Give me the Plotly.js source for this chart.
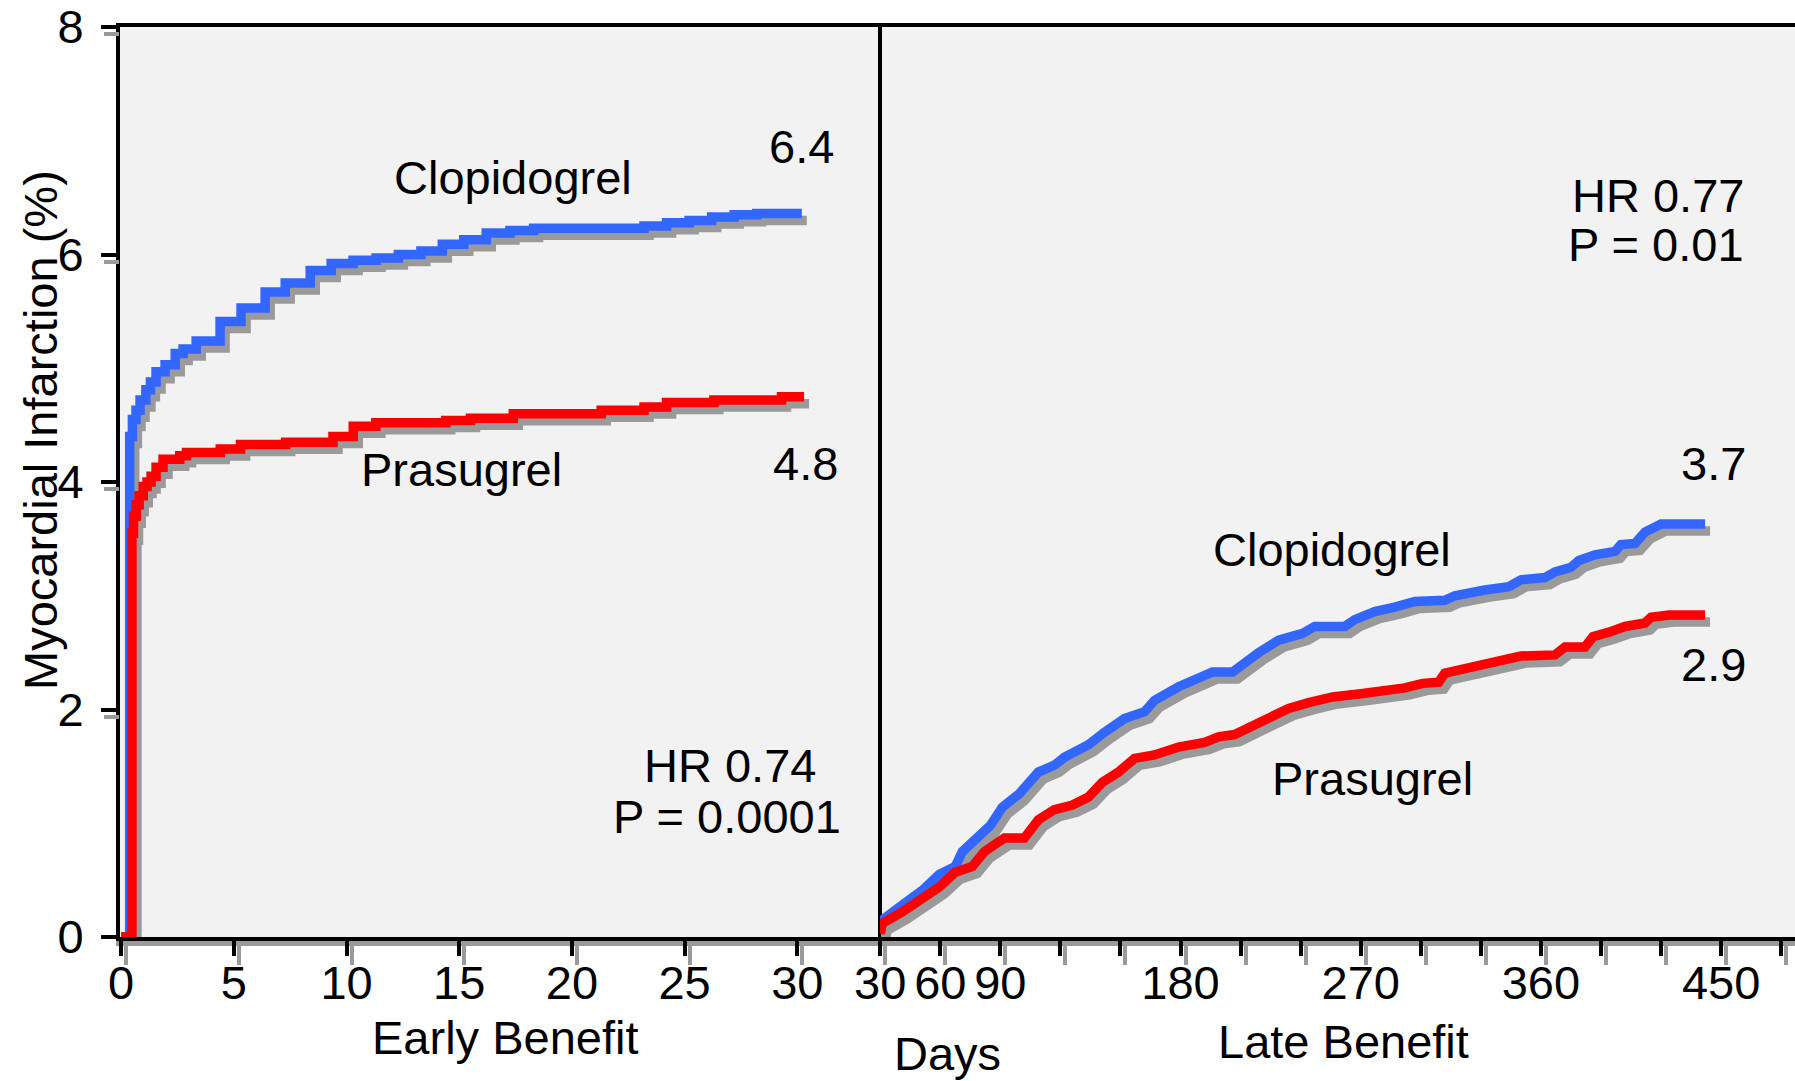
<!DOCTYPE html>
<html>
<head>
<meta charset="utf-8">
<script src="https://cdn.plot.ly/plotly-3.0.1.min.js"></script>
<style>html,body{margin:0;padding:0;background:#fff;}#chart{width:1795px;height:1081px;}</style>
</head>
<body>
<div id="chart"></div>
<script>
// ---------- data ----------
const earlyClopDays = [0, 0.38, 0.5, 0.66, 0.84, 1.1, 1.3, 1.55, 1.95, 2.4, 2.75, 3.33, 4.39, 5.32, 6.39, 7.28, 8.39, 9.32, 10.29, 11.31, 12.3, 13.3, 14.25, 15.2, 16.2, 17.25, 18.3, 23.2, 24.2, 25.2, 26.2, 27.2, 28.2, 30.2];
const earlyClopMI   = [0, 4.4, 4.55, 4.63, 4.72, 4.81, 4.88, 4.97, 5.03, 5.13, 5.17, 5.24, 5.41, 5.53, 5.67, 5.75, 5.86, 5.92, 5.95, 5.97, 6.0, 6.03, 6.09, 6.13, 6.19, 6.21, 6.23, 6.25, 6.28, 6.30, 6.33, 6.35, 6.36, 6.36];
const earlyPrasDays = [0, 0.48, 0.55, 0.67, 0.8, 0.98, 1.15, 1.33, 1.55, 1.86, 2.6, 2.9, 4.4, 5.3, 7.3, 9.4, 10.3, 11.3, 14.4, 15.5, 17.4, 21.3, 23.2, 24.2, 26.3, 29.3, 30.3];
const earlyPrasMI   = [0, 3.55, 3.7, 3.8, 3.88, 3.96, 4.0, 4.05, 4.13, 4.2, 4.23, 4.26, 4.29, 4.33, 4.35, 4.40, 4.49, 4.52, 4.54, 4.56, 4.6, 4.63, 4.66, 4.70, 4.72, 4.75, 4.75];

const lateClopDays = [30, 31, 41, 51, 59.5, 67.5, 71, 81, 85, 91, 99.5, 109, 117, 122, 134, 142, 152, 162, 167, 179, 186, 196, 206, 214, 219, 229, 241, 247, 262, 267, 277, 287, 297, 312, 317, 332, 344, 350, 362, 367, 375, 379, 387, 397, 400, 407, 412, 420, 442];
const lateClopMI   = [0.03, 0.15, 0.28, 0.41, 0.55, 0.62, 0.75, 0.9, 0.98, 1.14, 1.26, 1.45, 1.51, 1.58, 1.69, 1.80, 1.92, 1.98, 2.08, 2.2, 2.26, 2.33, 2.33, 2.44, 2.50, 2.61, 2.67, 2.73, 2.73, 2.79, 2.86, 2.9, 2.95, 2.96, 3.0, 3.05, 3.08, 3.14, 3.16, 3.21, 3.25, 3.31, 3.36, 3.39, 3.45, 3.46, 3.56, 3.63, 3.63];
const latePrasDays = [30, 31, 41, 51, 59.5, 67.5, 76, 82, 92, 102, 109, 117, 126, 134, 141, 149, 157, 167, 179, 192, 199, 207, 216, 226, 234, 244, 256, 271, 284, 292, 301, 309, 312, 322, 331, 339, 350, 367, 372, 382, 386, 394, 402, 412, 415, 424, 442];
const latePrasMI   = [0.03, 0.12, 0.22, 0.33, 0.44, 0.57, 0.62, 0.75, 0.87, 0.87, 1.03, 1.12, 1.16, 1.23, 1.36, 1.45, 1.57, 1.60, 1.67, 1.71, 1.76, 1.78, 1.85, 1.93, 2.01, 2.06, 2.11, 2.14, 2.16, 2.19, 2.23, 2.24, 2.32, 2.36, 2.41, 2.43, 2.47, 2.48, 2.55, 2.55, 2.64, 2.68, 2.73, 2.76, 2.81, 2.83, 2.83];

const yTicks = [0, 2, 4, 6, 8];
const earlyTicks = [0, 5, 10, 15, 20, 25, 30];
const lateTicks = [30, 60, 90, 120, 150, 180, 210, 240, 270, 300, 330, 360, 390, 420, 450, 480];
const lateTickText = ['30', '60', '90', '', '', '180', '', '', '270', '', '', '360', '', '', '450', ''];

const seriesNames = ['Clopidogrel', 'Prasugrel'];
const earlyFinal = ['6.4', '4.8'];
const lateFinal = ['3.7', '2.9'];
const earlyStats = ['HR 0.74', 'P = 0.0001'];
const lateStats = ['HR 0.77', 'P = 0.01'];
const yTitle = 'Myocardial Infarction (%)';
const xTitles = ['Early Benefit', 'Days', 'Late Benefit'];

// ---------- layout geometry ----------
const W = 1795, H = 1081;
const M = {l: 120, r: 0, t: 27, b: 144};
const plotW = W - M.l - M.r, plotH = H - M.t - M.b;
const splitPx = 758;
const leftDom = [0, splitPx / plotW];
const rightDom = [(splitPx + 2) / plotW, 1];
const leftRange = [-0.05, 33.58];
const rightRange = [29.9, 486.9];
const yRange = [0, 8];
const shDx = 5, shDy = 7;   // shadow offset in pixels
const leftPpu = splitPx / (leftRange[1] - leftRange[0]);
const rightPpu = (plotW - splitPx - 2) / (rightRange[1] - rightRange[0]);
const yPpu = plotH / (yRange[1] - yRange[0]);
const shift = (r, d) => [r[0] + d, r[1] + d];

const FONT = 'Arial, "Liberation Sans", sans-serif';
const FS = 47;
const BLUE = '#3366ff', RED = '#ff0000', GRAY = '#9a9a9a';
const LW = 9.5;

function line(x, y, xa, ya, color, shape) {
  return {x: x, y: y, xaxis: xa, yaxis: ya, type: 'scatter', mode: 'lines',
          line: {color: color, width: LW, shape: shape}, hoverinfo: 'skip', showlegend: false};
}

const traces = [
  // shadows on base axes (drawn first)
  line(earlyClopDays, earlyClopMI, 'x', 'y', GRAY, 'hv'),
  line(earlyPrasDays, earlyPrasMI, 'x', 'y', GRAY, 'hv'),
  line(lateClopDays, lateClopMI, 'x2', 'y2', GRAY, 'linear'),
  line(latePrasDays, latePrasMI, 'x2', 'y2', GRAY, 'linear'),
  // coloured curves on overlay axes
  line(earlyClopDays, earlyClopMI, 'x3', 'y3', BLUE, 'hv'),
  line(earlyPrasDays, earlyPrasMI, 'x3', 'y3', RED, 'hv'),
  line(lateClopDays, lateClopMI, 'x4', 'y4', BLUE, 'linear'),
  line(latePrasDays, latePrasMI, 'x4', 'y4', RED, 'linear')
];

const tickFont = {family: FONT, size: FS, color: '#000'};
const baseX = (dom, range, ticks, anchor) => ({
  domain: dom, range: range, anchor: anchor,
  showgrid: false, zeroline: false, showline: true, linecolor: GRAY, linewidth: 9,
  ticks: 'outside', tickvals: ticks, ticklen: 19, tickwidth: 4, tickcolor: GRAY,
  showticklabels: false, fixedrange: true
});

const layout = {
  width: W, height: H,
  margin: M,
  paper_bgcolor: '#ffffff', plot_bgcolor: '#f2f2f2',
  font: {family: FONT, size: FS, color: '#000'},
  showlegend: false,
  xaxis: baseX(leftDom, shift(leftRange, -shDx / leftPpu), earlyTicks, 'y'),
  xaxis2: baseX(rightDom, shift(rightRange, -shDx / rightPpu), lateTicks, 'y2'),
  yaxis: {domain: [0, 1], range: shift(yRange, shDy / yPpu), anchor: 'x',
          showgrid: false, zeroline: false, showline: false,
          ticks: 'outside', tickvals: yTicks, ticklen: 15, tickwidth: 4, tickcolor: GRAY,
          showticklabels: false, fixedrange: true},
  yaxis2: {domain: [0, 1], range: shift(yRange, shDy / yPpu), anchor: 'x2', visible: false, fixedrange: true},
  xaxis3: {overlaying: 'x', anchor: 'y3', range: leftRange,
           showgrid: false, zeroline: false, showline: true, linecolor: '#000', linewidth: 4, mirror: true,
           ticks: 'outside', tickvals: earlyTicks, ticktext: earlyTicks.map(String), ticklen: 15, tickwidth: 4, tickcolor: '#000',
           tickfont: tickFont, ticklabelstandoff: -13, fixedrange: true},
  yaxis3: {overlaying: 'y', anchor: 'x3', range: yRange,
           showgrid: false, zeroline: false, showline: true, linecolor: '#000', linewidth: 4, mirror: true,
           ticks: 'outside', tickvals: yTicks, ticktext: yTicks.map(String), ticklen: 15, tickwidth: 4, tickcolor: '#000',
           tickfont: tickFont, ticklabelstandoff: 8, fixedrange: true},
  xaxis4: {overlaying: 'x2', anchor: 'y4', range: rightRange,
           showgrid: false, zeroline: false, showline: true, linecolor: '#000', linewidth: 4, mirror: true,
           ticks: 'outside', tickvals: lateTicks, ticktext: lateTickText, ticklen: 15, tickwidth: 4, tickcolor: '#000',
           tickfont: tickFont, ticklabelstandoff: -13, fixedrange: true},
  yaxis4: {overlaying: 'y2', anchor: 'x4', range: yRange, visible: false, fixedrange: true},
  annotations: []
};

function ann(text, x, y, xref, yref, extra) {
  return Object.assign({text: text, x: x, y: y, xref: xref, yref: yref, showarrow: false,
    xanchor: 'center', yanchor: 'middle', font: {family: FONT, size: FS, color: '#000'}}, extra || {});
}
layout.annotations.push(
  ann(seriesNames[0], 17.4, 6.68, 'x3', 'y3'),
  ann(earlyFinal[0], 30.2, 6.95, 'x3', 'y3'),
  ann(seriesNames[1], 15.1, 4.11, 'x3', 'y3'),
  ann(earlyFinal[1], 30.35, 4.16, 'x3', 'y3'),
  ann(earlyStats[0], 27.0, 1.51, 'x3', 'y3'),
  ann(earlyStats[1], 26.9, 1.06, 'x3', 'y3'),
  ann(lateStats[0], 418.5, 6.52, 'x4', 'y4'),
  ann(lateStats[1], 417.5, 6.09, 'x4', 'y4'),
  ann(lateFinal[0], 446, 4.16, 'x4', 'y4'),
  ann(lateFinal[1], 446, 2.40, 'x4', 'y4'),
  ann(seriesNames[0], 255.7, 3.41, 'x4', 'y4'),
  ann(seriesNames[1], 275.7, 1.39, 'x4', 'y4'),
  ann(xTitles[0], (505 - M.l) / plotW, (M.t + plotH - 1037) / plotH, 'paper', 'paper'),
  ann(xTitles[1], (947 - M.l) / plotW, (M.t + plotH - 1053) / plotH, 'paper', 'paper'),
  ann(xTitles[2], (1343 - M.l) / plotW, (M.t + plotH - 1041) / plotH, 'paper', 'paper'),
  ann(yTitle, (40 - M.l) / plotW, (M.t + plotH - 430) / plotH, 'paper', 'paper', {textangle: -90})
);

Plotly.newPlot('chart', traces, layout, {displayModeBar: false, staticPlot: true});
</script>
</body>
</html>
